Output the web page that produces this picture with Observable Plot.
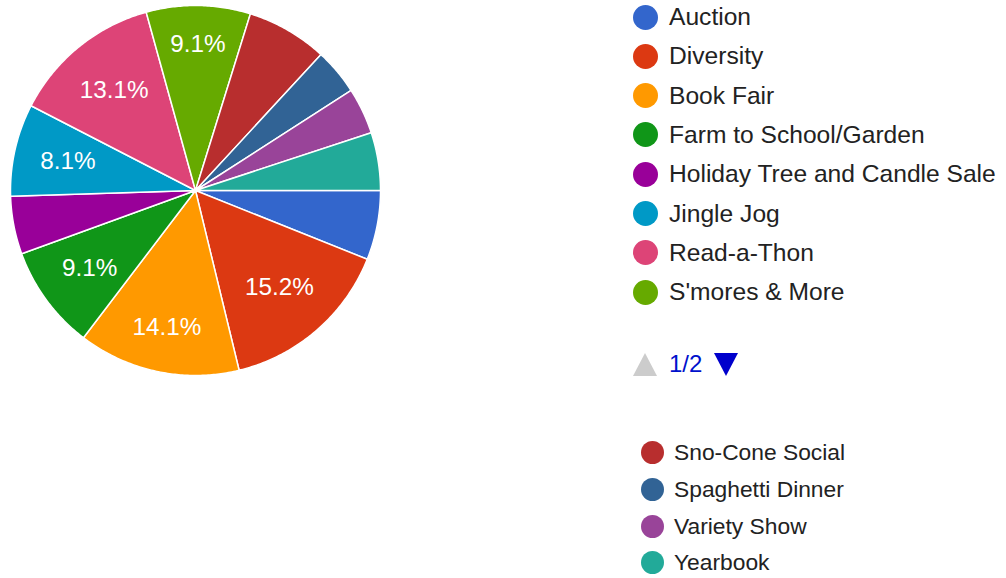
<!DOCTYPE html>
<html>
<head>
<meta charset="utf-8">
<script src="https://cdn.jsdelivr.net/npm/d3@7"></script>
<script src="https://cdn.jsdelivr.net/npm/@observablehq/plot@0.6"></script>
<style>
  html, body { margin: 0; padding: 0; background: #fff; }
  body { width: 1006px; height: 578px; position: relative; overflow: hidden; font-family: "Liberation Sans", Arial, sans-serif; }
  #chart { position: absolute; left: 0; top: 0; }
  .legend { position: absolute; }
  .row { display: flex; align-items: center; color: #222; white-space: nowrap; }
  .sw { border-radius: 50%; flex: none; }
  #leg1 { left: 633px; top: -2.6px; }
  #leg1 .row { height: 39.3px; font-size: 24.6px; }
  #leg1 .sw { width: 25px; height: 25px; margin-right: 11px; }
  #leg2 { left: 641px; top: 434.6px; }
  #leg2 .row { height: 36.6px; font-size: 22.8px; }
  #leg2 .sw { width: 23px; height: 23px; margin-right: 10px; }
  #pager { position: absolute; left: 633px; top: 352px; height: 24px; display: flex; align-items: center; }
  .tri-up { width: 0; height: 0; border-left: 12.5px solid transparent; border-right: 12.5px solid transparent; border-bottom: 23px solid #cccccc; }
  .tri-down { width: 0; height: 0; border-left: 12px solid transparent; border-right: 12px solid transparent; border-top: 23px solid #0000cc; }
  .pg { color: #0011cc; font-size: 24px; margin: 0 12px 0 12px; line-height: 24px; }
</style>
</head>
<body>
<div id="chart"></div>
<div id="leg1" class="legend"></div>
<div id="pager"><div class="tri-up"></div><div class="pg">1/2</div><div class="tri-down"></div></div>
<div id="leg2" class="legend"></div>
<script>
const names = ["Auction", "Diversity", "Book Fair", "Farm to School/Garden", "Holiday Tree and Candle Sale", "Jingle Jog", "Read-a-Thon", "S'mores & More", "Sno-Cone Social", "Spaghetti Dinner", "Variety Show", "Yearbook"];
const counts = [6, 15, 14, 9, 5, 8, 13, 9, 7, 4, 4, 5];
const colors = ["#3366cc", "#dc3912", "#ff9900", "#109618", "#990099", "#0099c6", "#dd4477", "#66aa00", "#b82e2e", "#316395", "#994499", "#22aa99"];
const legendPage1 = names.slice(0, 8);
const legendPage2 = names.slice(8);

const R = 185;
const startDeg = 90;
const total = d3.sum(counts);
const data = names.map((name, i) => ({name, count: counts[i]}));
const arcs = d3.pie().sort(null).value(d => d.count)
  .startAngle(startDeg * Math.PI / 180)
  .endAngle(startDeg * Math.PI / 180 + 2 * Math.PI)(data);

// slice outlines
const pts = [];
for (const a of arcs) {
  pts.push({name: a.data.name, x: 0, y: 0});
  const n = Math.max(2, Math.ceil((a.endAngle - a.startAngle) / 0.01));
  for (let k = 0; k <= n; k++) {
    const t = a.startAngle + (a.endAngle - a.startAngle) * k / n;
    pts.push({name: a.data.name, x: R * Math.sin(t), y: R * Math.cos(t)});
  }
}

// labels
const ctx = document.createElement("canvas").getContext("2d");
ctx.font = "24px 'Liberation Sans', Arial";
const labels = arcs.filter(a => a.data.count / total >= 0.075).map(a => {
  const text = (a.data.count / total * 100).toFixed(1) + "%";
  const hw = ctx.measureText(text).width / 2, hh = 11;
  const m = (a.startAngle + a.endAngle) / 2;
  const s = Math.abs(Math.sin(m)), c = Math.abs(Math.cos(m));
  const b = hw * s + hh * c;
  const lim = R - 25;
  const r = -b + Math.sqrt(b * b - (hw * hw + hh * hh - lim * lim));
  return {text, x: r * Math.sin(m), y: r * Math.cos(m)};
});

const plot = Plot.plot({
  width: 390, height: 380,
  margin: 0,
  x: {domain: [-195, 195], axis: null},
  y: {domain: [-190, 190], axis: null},
  color: {domain: names, range: colors},
  marks: [
    Plot.line(pts, {x: "x", y: "y", z: "name", fill: "name", stroke: "white", strokeWidth: 1.5, curve: "linear-closed", strokeLinejoin: "round"}),
    Plot.text(labels, {x: "x", y: "y", text: "text", fill: "white", fontSize: 24.3, fontFamily: "'Liberation Sans', Arial, sans-serif"})
  ]
});
document.getElementById("chart").appendChild(plot);

function legend(el, list) {
  for (const nm of list) {
    const row = document.createElement("div");
    row.className = "row";
    const sw = document.createElement("div");
    sw.className = "sw";
    sw.style.background = colors[names.indexOf(nm)];
    const tx = document.createElement("span");
    tx.textContent = nm;
    row.appendChild(sw); row.appendChild(tx);
    el.appendChild(row);
  }
}
legend(document.getElementById("leg1"), legendPage1);
legend(document.getElementById("leg2"), legendPage2);
</script>
</body>
</html>
